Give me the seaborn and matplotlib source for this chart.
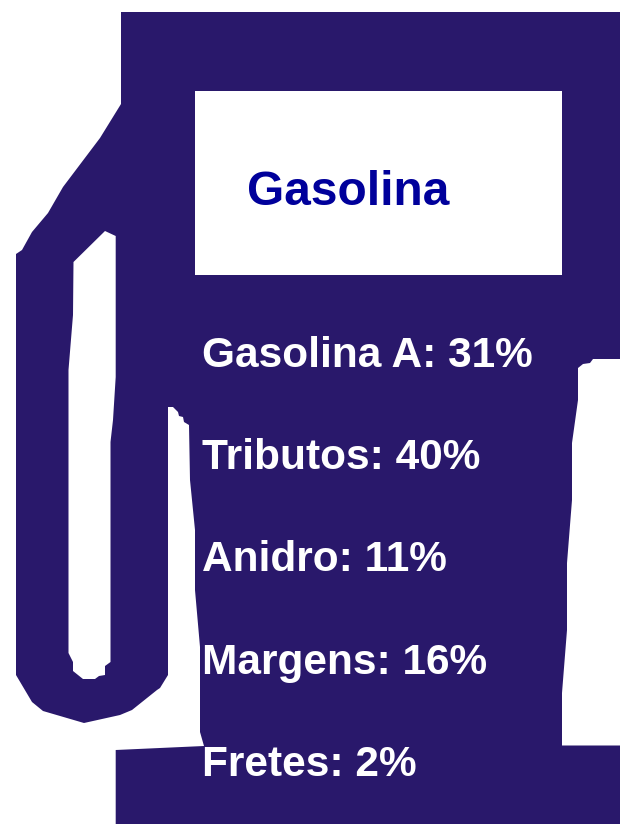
import seaborn as sns
import matplotlib.pyplot as plt
import pandas as pd

title = 'Gasolina'
categories = ['Gasolina A', 'Tributos', 'Anidro', 'Margens', 'Fretes']
values = [31, 40, 11, 16, 2]

# pump silhouette (pixels)
pump_x = [121, 620, 620, 593, 590, 583, 578, 578, 572, 572, 567, 567, 562, 562, 620, 620,
          115.7, 115.7, 204, 200, 200, 195, 195, 190, 189, 184, 183, 179, 178, 173, 168, 168,
          160, 157, 132, 120, 84, 43, 32, 16, 16, 22, 32, 48, 63, 100, 121]
pump_y = [12, 12, 359, 359, 363, 364, 368, 400, 443, 500, 563, 630, 693, 745.5, 745.5, 824,
          824, 750, 746, 732, 647, 590, 530, 480, 425, 422, 417, 416, 412, 407, 407, 675,
          688, 690, 710, 715, 723, 711, 702, 675, 254, 250, 232, 213, 187, 138, 104]
hole_x = [73.5, 105, 115.7, 115.7, 113, 110.5, 110.5, 105, 105, 99, 95, 83, 73, 73, 68.5, 68.5, 73]
hole_y = [262, 231, 236, 377, 420, 442, 662, 666, 675, 676, 679, 679, 671, 662, 653, 370, 315]
panel_x = [194.5, 562, 562, 194.5]
panel_y = [91, 91, 275, 275]

df = pd.DataFrame({'category': categories, 'value': values})

sns.set_theme(style='white')
plt.rcParams['font.family'] = ['Liberation Sans', 'DejaVu Sans']

fig, ax = plt.subplots(figsize=(6.2, 8.24), dpi=100)
fig.subplots_adjust(0, 0, 1, 1)
ax.set_xlim(0, 620)
ax.set_ylim(824, 0)
ax.axis('off')

ax.fill(pump_x, pump_y, color='#29186b', lw=0)
ax.fill(hole_x, hole_y, color='white', lw=0)
ax.fill(panel_x, panel_y, color='white', lw=0)

ax.text(247, 205, title, color='#00009b', fontsize=34.5, fontweight='bold', va='baseline')
for i, row in df.iterrows():
    ax.text(202, 367 + i * 102.2, f"{row['category']}: {row['value']}%", color='white',
            fontsize=30.5, fontweight='bold', va='baseline')

sns.despine(ax=ax, left=True, bottom=True)
fig.savefig('out.png', dpi=100)
